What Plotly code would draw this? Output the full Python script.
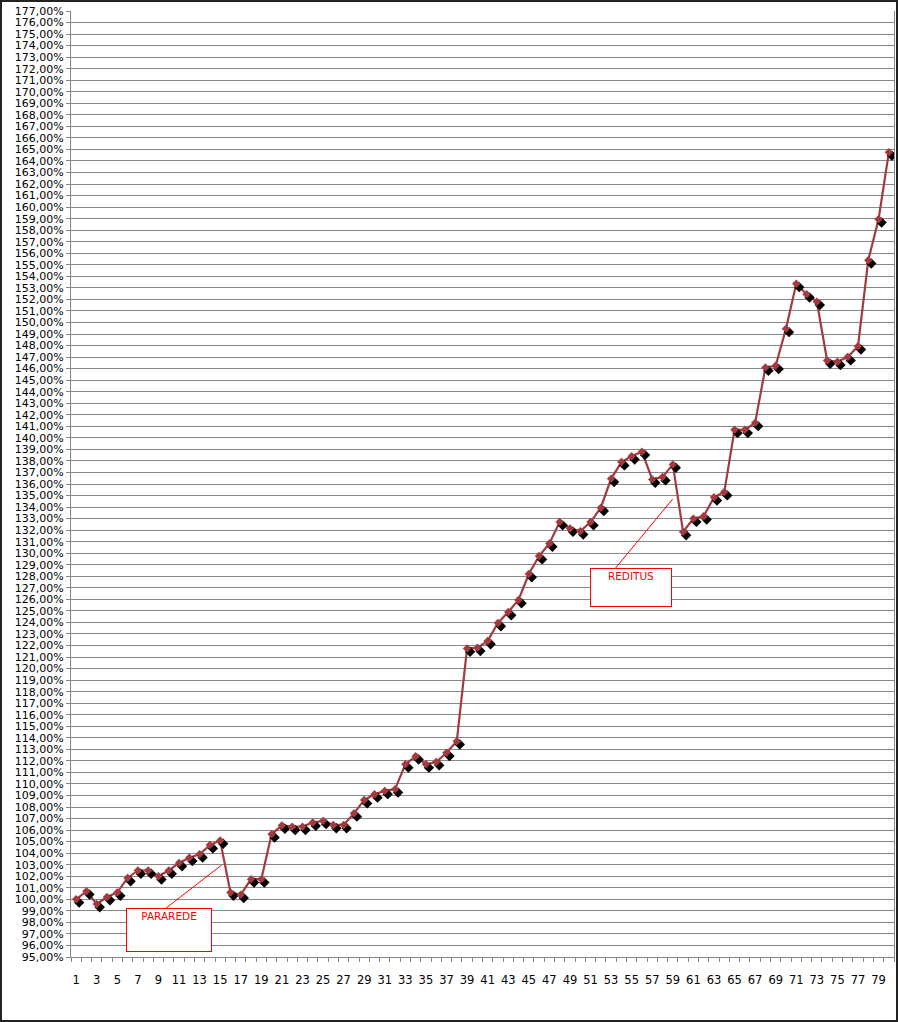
import plotly.graph_objects as go

periods = list(range(1, 81))
values = [
    100.0, 100.7, 99.6, 100.2, 100.6, 101.85, 102.5, 102.5, 102.0, 102.5,
    103.15, 103.6, 103.9, 104.7, 105.1, 100.6, 100.4, 101.75, 101.75, 105.65,
    106.4, 106.3, 106.3, 106.65, 106.8, 106.45, 106.45, 107.45, 108.6, 109.1,
    109.4, 109.55, 111.7, 112.4, 111.7, 111.9, 112.7, 113.7, 121.75, 121.8,
    122.4, 123.95, 124.9, 125.95, 128.2, 129.75, 130.85, 132.7, 132.15, 131.9,
    132.7, 133.95, 136.45, 137.9, 138.4, 138.8, 136.4, 136.6, 137.7, 131.85,
    133.0, 133.2, 134.85, 135.3, 140.7, 140.7, 141.3, 146.1, 146.25, 149.45,
    153.35, 152.45, 151.8, 146.7, 146.6, 147.0, 147.95, 155.4, 158.95, 164.75,
]
x_tick_labels = [str(v) for v in range(1, 80, 2)]
y_min, y_max = 95, 177

# annotation notes (label, box centre, connector line start/end) in data units
notes = [
    ("PARAREDE", (10.07, 97.37), (9.67, 99.19), (15.15, 102.98), 82, 40),
    ("REDITUS", (54.96, 127.01), (53.41, 128.69), (58.99, 134.70), 78, 35),
]

LINE_COL = "#A33A40"
GRID_COL = "#878787"
FONT = "DejaVu Sans"

W, H = 898, 1022
L, R, T, B = 71, 4, 11, 65
pw, ph = W - L - R, H - T - B
cat_w = pw / 80.0
dx = 3 / cat_w
dy = 3.3 / (ph / (y_max - y_min))

fig = go.Figure()
fig.add_trace(go.Scatter(x=periods, y=values, mode="lines",
                         line=dict(color=LINE_COL, width=2.2),
                         xaxis="x", yaxis="y", hoverinfo="skip"))
fig.add_trace(go.Scatter(x=periods, y=values, mode="markers",
                         marker=dict(symbol="diamond", size=8, color="#000000"),
                         xaxis="x2", yaxis="y2", hoverinfo="skip"))
fig.add_trace(go.Scatter(x=periods, y=values, mode="markers",
                         marker=dict(symbol="diamond", size=6.5, color=LINE_COL),
                         xaxis="x3", yaxis="y3"))

for label, (bx, by), (lx0, ly0), (lx1, ly1), bw, bh in notes:
    fig.add_shape(type="line", xref="x", yref="y", x0=lx0, y0=ly0, x1=lx1, y1=ly1,
                  line=dict(color="#FF0000", width=1))
    fig.add_annotation(x=bx, y=by, xref="x", yref="y", text=label, showarrow=False,
                       width=bw, height=bh, valign="top", align="center",
                       bordercolor="#FF0000", borderwidth=1, borderpad=1,
                       bgcolor="#FFFFFF",
                       font=dict(family=FONT, size=10.5, color="#FF0000"))

# outer frame of the picture
fig.add_shape(type="rect", xref="paper", yref="paper",
              x0=(1 - L) / pw, x1=(W - 1 - L) / pw,
              y0=1 - (H - 1 - T) / ph, y1=1 - (1 - T) / ph,
              line=dict(color="#222222", width=2), layer="above")

fig.update_layout(
    width=W, height=H,
    margin=dict(l=L, r=R, t=T, b=B, pad=0),
    paper_bgcolor="#FFFFFF", plot_bgcolor="#FFFFFF",
    showlegend=False,
    separators=", ",
    font=dict(family=FONT, size=11, color="#000000"),
    xaxis=dict(range=[0.5, 80.5], tickmode="array",
               tickvals=list(range(1, 80, 2)), ticktext=x_tick_labels,
               ticks="", showgrid=False, zeroline=False,
               showline=True, linecolor=GRID_COL, linewidth=1,
               ticklabelstandoff=12,
               tickfont=dict(family=FONT, size=11.5, color="#000000"),
               minor=dict(tick0=0.5, dtick=1, ticks="outside", ticklen=4,
                          tickcolor=GRID_COL, showgrid=False)),
    yaxis=dict(range=[y_min, y_max], dtick=1, tick0=95,
               tickformat=".2f", ticksuffix="%",
               ticks="outside", ticklen=4, tickcolor=GRID_COL,
               showgrid=True, gridcolor=GRID_COL, gridwidth=1,
               zeroline=False, showline=True, linecolor=GRID_COL, linewidth=1,
               mirror=True,
               tickfont=dict(family=FONT, size=11, color="#000000")),
    xaxis2=dict(overlaying="x", range=[0.5 - dx, 80.5 - dx], visible=False),
    yaxis2=dict(overlaying="y", range=[y_min + dy, y_max + dy], visible=False),
    xaxis3=dict(overlaying="x", range=[0.5, 80.5], visible=False),
    yaxis3=dict(overlaying="y", range=[y_min, y_max], visible=False),
)

fig.write_html(
    "out.html",
    config={"displayModeBar": False},
    post_script="document.body.style.margin='0';document.body.style.padding='0';"
                "document.body.style.overflow='hidden';",
)
